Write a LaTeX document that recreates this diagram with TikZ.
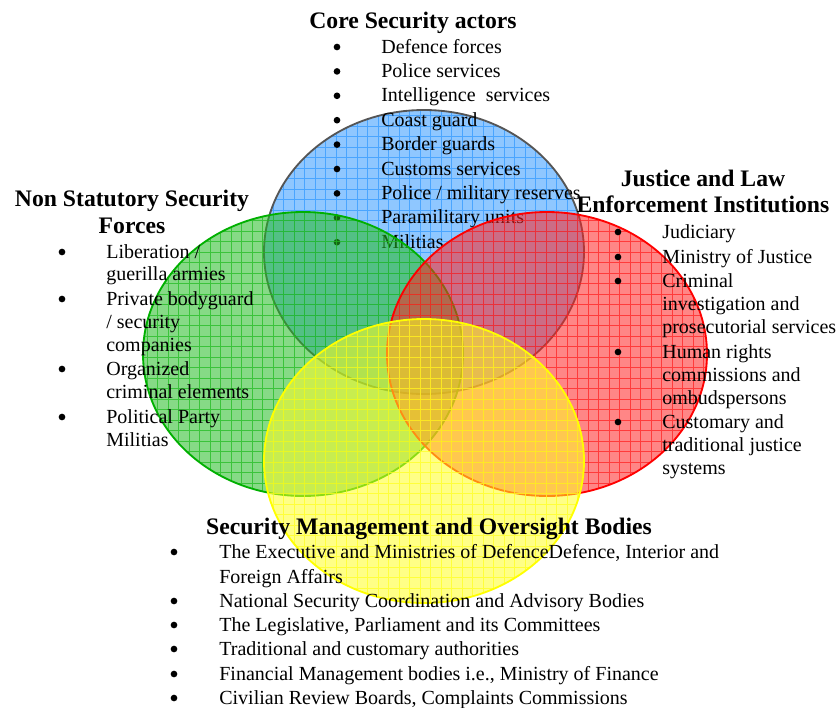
\documentclass[tikz,border=0pt]{standalone}
\usepackage{fontspec}
\setmainfont{Liberation Serif}
\definecolor{coreblue}{RGB}{51,153,255}
\definecolor{coreline}{RGB}{85,85,85}
\definecolor{nonsgreen}{RGB}{34,187,34}
\definecolor{nonsline}{RGB}{0,176,0}
\definecolor{justred}{RGB}{255,34,34}
\definecolor{justline}{RGB}{255,0,0}
\definecolor{mgmtyellow}{RGB}{255,255,34}
\definecolor{mgmtline}{RGB}{255,255,0}

\begin{document}
\begin{tikzpicture}[x=0.6pt,y=-0.6pt,
  head/.style={font=\bfseries\fontsize{14.2}{16}\selectfont, inner sep=0pt, anchor=base},
  item/.style={font=\fontsize{12}{14}\selectfont, inner sep=0pt, anchor=base west},
  dot/.style={circle, fill=black, inner sep=0pt, minimum size=4pt},
  venn/.style={x radius=96pt, y radius=85.2pt}]
\useasboundingbox (0,0) rectangle (838,708);

% the four circles, blue one first so its list sits on it
\foreach \cx/\cy/\fc/\lc [count=\k] in {424/252/coreblue/coreline, 303/354/nonsgreen/nonsline,
  547/354/justred/justline, 424/461/mgmtyellow/mgmtline}
{
  \fill[\fc, opacity=.55] (\cx,\cy) ellipse [venn];
  \begin{scope}
    \clip (\cx,\cy) ellipse [venn];
    \draw[\fc, opacity=.75, line width=.5pt, step=6.3pt] (\cx-170,\cy-150) grid (\cx+170,\cy+150);
  \end{scope}
  \draw[\lc, line width=1.1pt] (\cx,\cy) ellipse [venn];
  \ifnum\k=1
    % core security actors
    \node[head] (corehead) at (413,28) {Core Security actors};
    \foreach \t [count=\i] in {Defence forces, Police services, Intelligence\ \ services,
      Coast guard, Border guards, Customs services, {Police / military reserves},
      Paramilitary units, Militias}
    {
      \node[dot] (coredot\i) at (337,{47+24.4*(\i-1)}) {};
      \node[item] (core\i) at (381,{53+24.4*(\i-1)}) {\t};
    }
  \fi
}

% non statutory security forces
\node[head] (nonshead1) at (132,206) {Non Statutory Security};
\node[head] (nonshead2) at (132,233) {Forces};
\foreach \y/\t [count=\i] in {258/{Liberation /}, 280/guerilla armies, 305/Private bodyguard,
  328/{/ security}, 351/companies, 375/Organized, 398/criminal elements,
  423/Political Party, 446/Militias}
  \node[item] (nons\i) at (106,\y) {\t};
\foreach \y [count=\i] in {258,305,375,423}
  \node[dot] (nonsdot\i) at (62,\y-6) {};

% justice and law enforcement
\node[head] (justhead1) at (703,186) {Justice and Law};
\node[head] (justhead2) at (703,212) {Enforcement Institutions};
\foreach \y/\t [count=\i] in {238/Judiciary, 263/Ministry of Justice, 287/Criminal,
  310/investigation and, 333/prosecutorial services, 358/Human rights,
  381/commissions and, 404/ombudspersons, 428/Customary and,
  451/traditional justice, 474/systems}
  \node[item] (just\i) at (662,\y) {\t};
\foreach \y [count=\i] in {238,263,287,358,428}
  \node[dot] (justdot\i) at (618,\y-6) {};

% security management and oversight
\node[head] (mgmthead) at (429,534) {Security Management and Oversight Bodies};
\foreach \y/\t [count=\i] in {558/{The Executive and Ministries of DefenceDefence, Interior and},
  583/Foreign Affairs, 607/National Security Coordination and Advisory Bodies,
  631/{The Legislative, Parliament and its Committees},
  655/Traditional and customary authorities,
  680/{Financial Management bodies i.e., Ministry of Finance},
  704/{Civilian Review Boards, Complaints Commissions}}
  \node[item] (mgmt\i) at (219,\y) {\t};
\foreach \y [count=\i] in {558,607,631,655,680,704}
  \node[dot] (mgmtdot\i) at (174,\y-6) {};
\end{tikzpicture}
\end{document}
